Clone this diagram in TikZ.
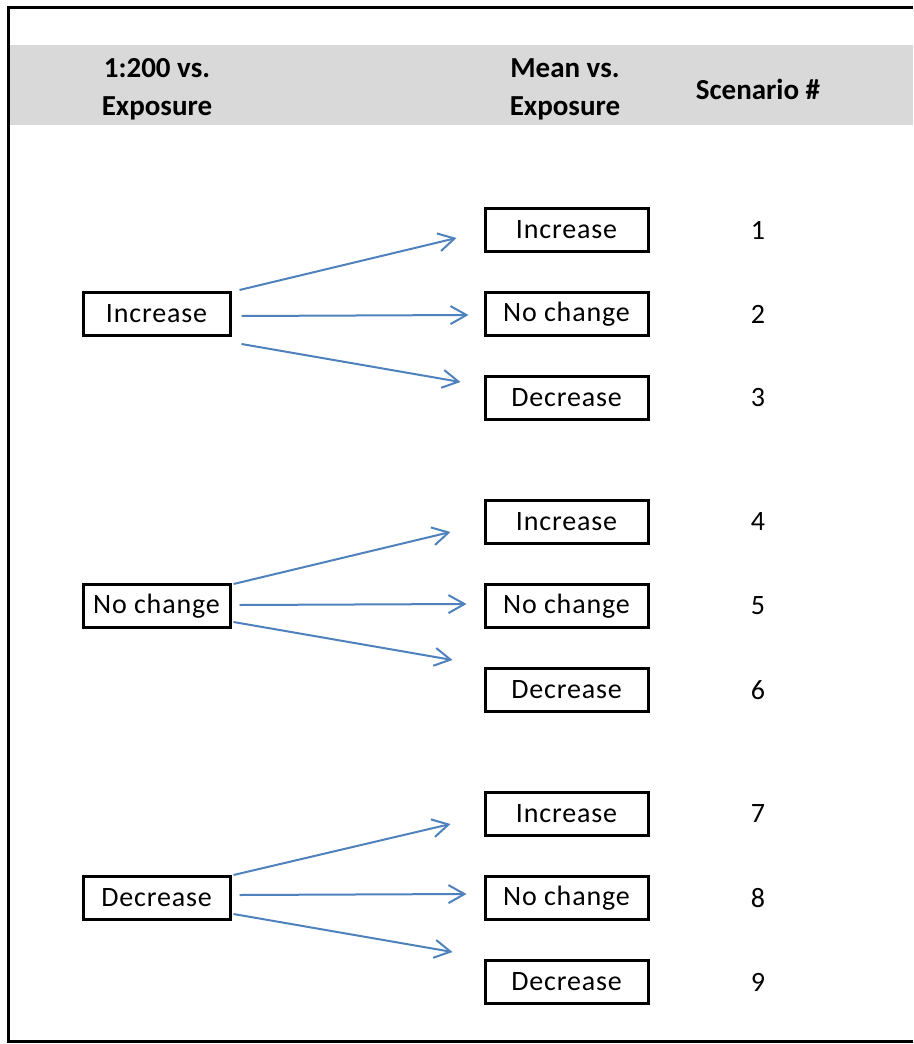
\documentclass[tikz,border=0pt]{standalone}
\usepackage{fontspec}
\setmainfont{Carlito}
\usetikzlibrary{arrows.meta}
\definecolor{hdr}{HTML}{D9D9D9}
\definecolor{arrblue}{HTML}{4F81BD}
\tikzset{
  bodyfont/.style={font=\fontsize{28}{32}\selectfont\addfontfeature{LetterSpace=3}},
  optbox/.style={draw=black, line width=3pt, minimum height=43pt, inner sep=0pt, bodyfont},
  leftbox/.style={optbox, minimum width=147pt},
  rightbox/.style={optbox, minimum width=163pt},
  hdrtext/.style={font=\bfseries\fontsize{29}{38}\selectfont, align=center},
  numtext/.style={bodyfont},
  arr/.style={draw=arrblue, line width=2pt, -{Straight Barb[length=16pt,width=18pt]}}
}
\begin{document}
\begin{tikzpicture}[x=1pt,y=-1pt]
\useasboundingbox (0,0) rectangle (913,1044);
\fill[hdr] (8,45) rectangle (913,125);
\draw[line width=3pt] (913,7) -- (8,7) -- (8,1041) -- (913,1041);
\node[hdrtext] (h1) at (157,89) {1:200 vs.\\Exposure};
\node[hdrtext] (h2) at (565,89) {Mean vs.\\Exposure};
\node[hdrtext] (h3) at (758,89) {Scenario \#};
% left boxes
\node[leftbox] (L1) at (156.5,314) {Increase};
\node[leftbox] (L2) at (156.5,606) {No change};
\node[leftbox] (L3) at (156.5,898) {Decrease};
% right boxes
\foreach \i/\y/\t in {1/230/Increase,2/314/No change,3/398/Decrease,4/522/Increase,5/606/No change,6/690/Decrease,7/814/Increase,8/898/No change,9/982/Decrease}{
  \node[rightbox] (R\i) at (566.5,\y) {\t};
  \node[numtext] (N\i) at (758,\y) {\i};
}
% arrows
\draw[arr] ([shift={(8,-1)}]L1.north east) -- ([shift={(-27,8)}]R1.west);
\draw[arr] ([shift={(10,2)}]L1.east) -- ([shift={(-15,1)}]R2.west);
\draw[arr] ([shift={(10,7)}]L1.south east) -- ([shift={(-23,-16)}]R3.west);
\draw[arr] ([shift={(2,1)}]L2.north east) -- ([shift={(-33,10)}]R4.west);
\draw[arr] ([shift={(8,-1)}]L2.east) -- ([shift={(-17,-2)}]R5.west);
\draw[arr] ([shift={(2,-7)}]L2.south east) -- ([shift={(-31,-30)}]R6.west);
\draw[arr] ([shift={(2,0)}]L3.north east) -- ([shift={(-33,10)}]R7.west);
\draw[arr] ([shift={(8,-3)}]L3.east) -- ([shift={(-17,-4)}]R8.west);
\draw[arr] ([shift={(2,-7)}]L3.south east) -- ([shift={(-31,-30)}]R9.west);
\end{tikzpicture}
\end{document}
